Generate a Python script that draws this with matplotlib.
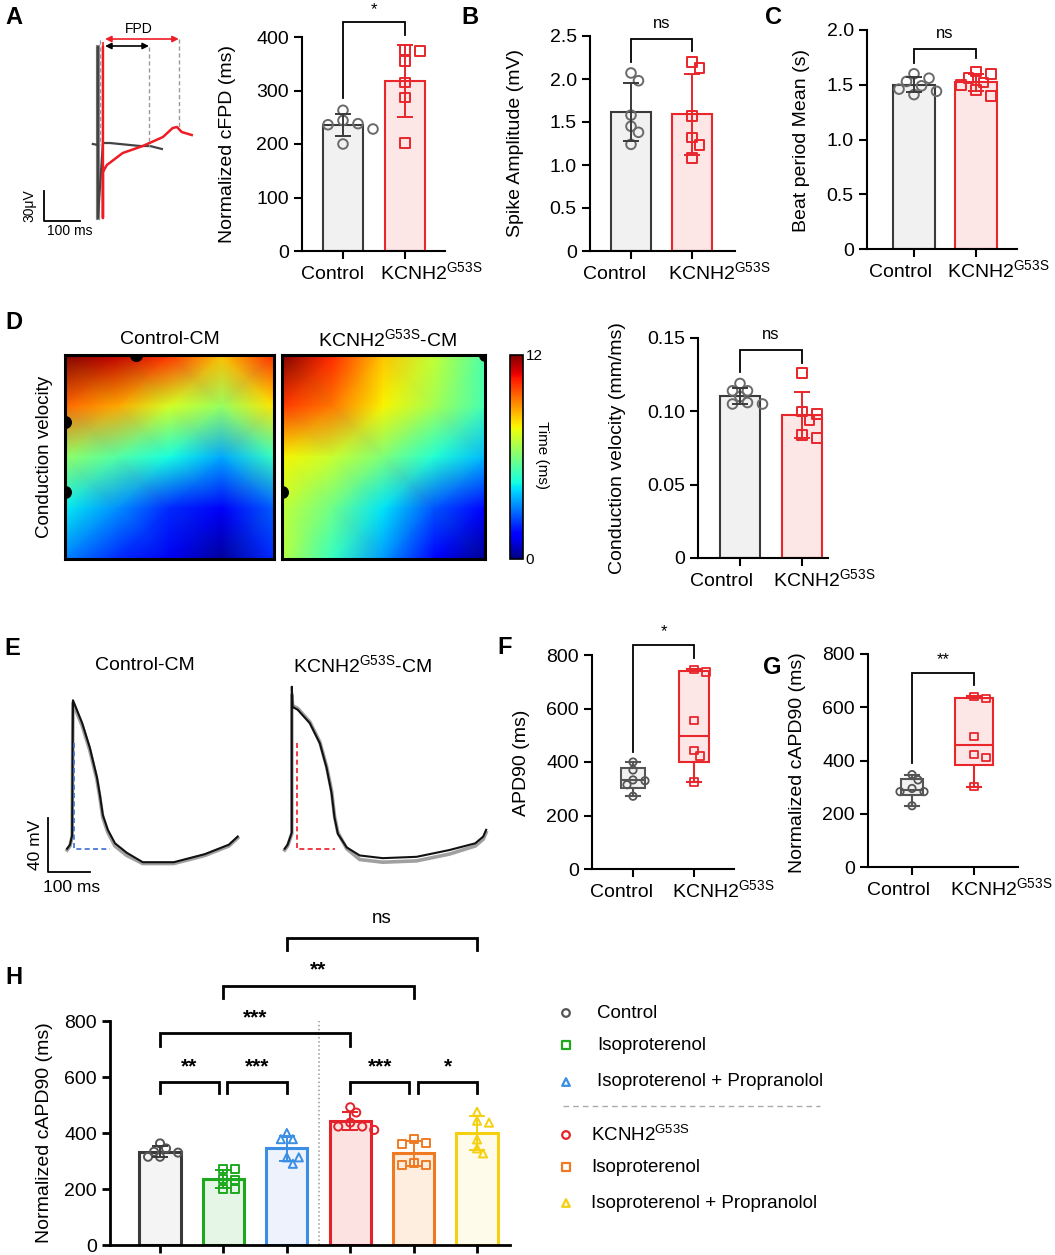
import numpy as np
import matplotlib
matplotlib.use('Agg')
import matplotlib.pyplot as plt
from matplotlib.transforms import ScaledTranslation

plt.rcParams['font.family'] = ['Liberation Sans', 'DejaVu Sans']
plt.rcParams['mathtext.fontset'] = 'custom'
plt.rcParams['mathtext.rm'] = 'Liberation Sans'
plt.rcParams['mathtext.it'] = 'Liberation Sans:italic'
plt.rcParams['mathtext.bf'] = 'Liberation Sans:bold'

# ---------------- data ----------------
MUT = 'KCNH2$^{\\mathregular{G53S}}$'
groups2 = ['Control', MUT]

cfpd_ctrl = [263, 244, 238, 236, 228, 200]
cfpd_mut = [376, 374, 355, 315, 287, 202]
amp_ctrl = [2.07, 1.98, 1.58, 1.45, 1.38, 1.24]
amp_mut = [2.20, 2.13, 1.57, 1.32, 1.23, 1.08]
beat_ctrl = [1.60, 1.56, 1.53, 1.49, 1.46, 1.44, 1.41]
beat_mut = [1.62, 1.60, 1.56, 1.52, 1.50, 1.45, 1.40]
cv_ctrl = [0.119, 0.114, 0.114, 0.110, 0.106, 0.105, 0.105]
cv_mut = [0.126, 0.100, 0.098, 0.094, 0.084, 0.082]
apd_ctrl = [400, 370, 333, 330, 315, 272]
apd_mut = [746, 737, 555, 443, 423, 325]
capd_ctrl = [347, 327, 295, 283, 283, 230]
capd_mut = [641, 632, 490, 423, 411, 302]

h_labels = ['Control', 'Isoproterenol', 'Isoproterenol + Propranolol',
            MUT, 'Isoproterenol', 'Isoproterenol + Propranolol']
h_ctrl = [363, 345, 333, 330, 315, 315]
h_iso = [271, 271, 236, 232, 199, 199]
h_isoprop = [400, 378, 378, 313, 313, 290]
h_mut = [492, 473, 437, 423, 423, 411]
h_mut_iso = [377, 363, 361, 292, 286, 286]
h_mut_isoprop = [476, 444, 437, 377, 345, 327]

# activation maps (ms), rows top->bottom, cols left->right
ctrl_map = np.array([
    [12.0, 11.3, 10.3, 8.5, 10.4],
    [9.6, 8.8, 7.3, 6.4, 8.0],
    [6.3, 5.4, 4.5, 3.5, 5.0],
    [4.3, 3.2, 2.0, 1.3, 2.6],
    [3.0, 2.0, 1.2, 0.3, 2.0]])
mut_map = np.array([
    [12.0, 10.4, 8.4, 7.0, 5.3],
    [10.2, 9.4, 7.8, 6.6, 5.2],
    [7.8, 7.1, 6.0, 4.7, 3.7],
    [7.0, 5.8, 4.2, 2.5, 1.5],
    [6.8, 5.0, 3.3, 1.5, 0.2]])

# field potentials (ms, uV)
fp_ctrl_t = [-14, 0, 0, 0, 14, 33, 61, 117, 145, 178]
fp_ctrl_v = [1, 0, 98, -73, 2, 2, 1, -1, -1, -4]
fp_mut_t = [14, 14, 14, 25, 69, 125, 181, 208, 220, 233, 261]
fp_mut_v = [98, -73, -27, -20, -8, -1, 8, 17, 18, 13, 10]

# action potentials (ms, mV)
ap_ctrl_t = [-14, -7, -2, 0, 22, 40, 57, 64, 71, 83, 100, 128, 166, 240, 314, 371, 392]
ap_ctrl_v = [-70, -67, -60, 40, 23, 5, -17, -30, -45, -56, -66, -73, -80, -80, -74, -67, -61]
ap_ctrl_gray_v = [-71, -68, -61, 38, 21, 3, -19, -32, -47, -58, -68, -75, -81, -81, -75, -68, -62]
ap_mut_t = [-17, -10, 0, 0, 2, 14, 43, 67, 83, 95, 102, 110, 131, 162, 217, 298, 376, 438, 457, 464]
ap_mut_v = [-70, -67, -58, 50, 35, 33, 23, 8, -10, -29, -47, -59, -69, -75, -77, -76, -71, -66, -61, -56]
ap_mut_gray_v = [-71, -68, -59, 44, 36, 34, 24, 9, -9, -27, -46, -58, -70, -78, -80, -79, -74, -68, -63, -58]

# ---------------- figure ----------------
W, H = 1055, 1255
fig = plt.figure(figsize=(W / 100, H / 100), dpi=100)
FS = 14


def add_px(x0, y0, x1, y1):
    return fig.add_axes([x0 / W, 1 - y1 / H, (x1 - x0) / W, (y1 - y0) / H])


def ftext(x, y, s, **kw):
    kw.setdefault('ha', 'center')
    kw.setdefault('va', 'center')
    fig.text(x / W, 1 - y / H, s, **kw)


GRAY, GRAYF, GRAYM = '#3a3a3a', '#f1f1f1', '#6a6a6a'
RED, REDF = '#e8262c', '#fde6e6'


def style_ax(ax, lw=1.5):
    for s in ['top', 'right']:
        ax.spines[s].set_visible(False)
    for s in ['left', 'bottom']:
        ax.spines[s].set_linewidth(lw)
        ax.spines[s].set_color('black')
    ax.tick_params(width=lw, length=6, labelsize=FS, colors='black')


def swarm(vals, ax, diam=10, step=1.5):
    bb = ax.get_position()
    xr, yr = ax.get_xlim(), ax.get_ylim()
    ux = (xr[1] - xr[0]) / (bb.width * W)
    uy = (yr[1] - yr[0]) / (bb.height * H)
    placed, offs = [], []
    cands = [0]
    for j in range(1, 8):
        cands += [j, -j]
    for v in vals:
        py = v / uy
        for c in cands:
            px = c * diam * step * 0.5
            if all((px - a) ** 2 + (py - b) ** 2 >= (diam * 0.95) ** 2 for a, b in placed):
                break
        placed.append((px, py))
        offs.append(px * ux)
    return np.array(offs)


def bar_panel(ax, datasets, edges, fills, mcols, markers, width, ms=48, diam=10, lw=1.5):
    for i, vals in enumerate(datasets):
        m, sd = np.mean(vals), np.std(vals, ddof=1)
        ax.bar(i, m, width, color=fills[i], edgecolor=edges[i], linewidth=lw, zorder=1)
        xo = swarm(vals, ax, diam=diam)
        ax.scatter(i + xo, vals, marker=markers[i], s=ms, facecolors='none',
                   edgecolors=mcols[i], linewidths=1.4, zorder=3, clip_on=False)
        ax.errorbar(i, m, yerr=sd, fmt='none', ecolor=edges[i], elinewidth=1.4,
                    capsize=6, capthick=1.4, zorder=4)


def bracket(ax, x1, x2, y, y1, y2, txt, ty, fs=12, lw=1.3, weight='normal'):
    ax.plot([x1, x1, x2, x2], [y1, y, y, y2], color='black', lw=lw, clip_on=False,
            solid_joinstyle='miter', zorder=5)
    ax.text((x1 + x2) / 2, ty, txt, ha='center', va='center', fontsize=fs,
            fontweight=weight, clip_on=False)


def two_group_axes(box, xl, yl, yticks, yticklabels, dctrl=-12, dmut=-25):
    ax = add_px(*box)
    ax.set_xlim(*xl)
    ax.set_ylim(*yl)
    style_ax(ax)
    ax.set_yticks(yticks)
    ax.set_yticklabels(yticklabels)
    ax.set_xticks([0, 1])
    ax.set_xticklabels([])
    for i, (lab, dx, ha) in enumerate(zip(groups2, [dctrl, dmut], ['center', 'left'])):
        tr = ax.get_xaxis_transform() + ScaledTranslation(dx / 100, -28 / 100, fig.dpi_scale_trans)
        ax.text(i, 0, lab, transform=tr, ha=ha, va='baseline', fontsize=FS)
    return ax


# ---------------- A traces ----------------
axA0 = add_px(40, 20, 200, 245)
axA0.set_xlim(-161, 284)
axA0.set_ylim(-100, 125)
axA0.axis('off')
axA0.plot([0, 0], [98, -73], color='#888888', lw=3.0)
axA0.plot(fp_ctrl_t, fp_ctrl_v, color='#444444', lw=1.6)
axA0.plot(fp_mut_t, fp_mut_v, color='#ee1c24', lw=1.8)
axA0.plot([14, 14], [98, 106], color='#ee1c24', lw=1.2, ls=(0, (3, 2)))
axA0.plot([5, 5], [105, 0], color='#999999', lw=1.0, ls=(0, (3, 2)))
axA0.plot([142, 142], [98, -2], color='#999999', lw=1.0, ls=(0, (3, 2)))
axA0.plot([225, 225], [106, 18], color='#999999', lw=1.0, ls=(0, (3, 2)))
axA0.annotate('', xy=(20, 99), xytext=(142, 99),
              arrowprops=dict(arrowstyle='<|-|>', color='black', lw=1.2, mutation_scale=9, shrinkA=0, shrinkB=0))
axA0.annotate('', xy=(20, 106), xytext=(225, 106),
              arrowprops=dict(arrowstyle='<|-|>', color='#ee1c24', lw=1.2, mutation_scale=9, shrinkA=0, shrinkB=0))
axA0.plot([-150, -150, -50], [-46, -76, -76], color='black', lw=1.3)
ftext(139, 29, 'FPD', fontsize=10)
ftext(29, 206, '30μV', fontsize=10, rotation=90)
ftext(70, 231, '100 ms', fontsize=10)

# ---------------- A bars ----------------
axA = two_group_axes((302, 37, 445, 251), (-0.661, 1.645), (0, 400),
                     [0, 100, 200, 300, 400], ['0', '100', '200', '300', '400'], -10, -25)
bar_panel(axA, [cfpd_ctrl, cfpd_mut], [GRAY, RED], [GRAYF, REDF], [GRAYM, RED], ['o', 's'], 0.63)
bracket(axA, 0, 1, 428, 286, 404, '*', 452)
ftext(228, 144, 'Normalized cFPD (ms)', fontsize=FS, rotation=90)

# ---------------- B ----------------
axB = two_group_axes((590, 36, 735, 251), (-0.672, 1.705), (0, 2.5),
                     [0, 0.5, 1.0, 1.5, 2.0, 2.5], ['0', '0.5', '1.0', '1.5', '2.0', '2.5'], -16, -24)
bar_panel(axB, [amp_ctrl, amp_mut], [GRAY, RED], [GRAYF, REDF], [GRAYM, RED], ['o', 's'], 0.64)
bracket(axB, 0, 1, 2.47, 2.20, 2.33, 'ns', 2.64)
ftext(515, 143, 'Spike Amplitude (mV)', fontsize=FS, rotation=90)

# ---------------- C ----------------
axC = two_group_axes((867, 30, 1017, 249), (-0.758, 1.661), (0, 2.0),
                     [0, 0.5, 1.0, 1.5, 2.0], ['0', '0.5', '1.0', '1.5', '2.0'], -14, -29)
bar_panel(axC, [beat_ctrl, beat_mut], [GRAY, RED], [GRAYF, REDF], [GRAYM, RED], ['o', 's'], 0.68)
bracket(axC, 0, 1, 1.83, 1.70, 1.74, 'ns', 1.97)
ftext(802, 140, 'Beat period Mean (s)', fontsize=FS, rotation=90)

# ---------------- D maps ----------------
gx = np.linspace(0, 1, ctrl_map.shape[1])
gy = np.linspace(0, 1, ctrl_map.shape[0])
GX, GY = np.meshgrid(gx, gy)
mapboxes = [(65, 355, 274, 559), (282, 355, 485, 559)]
dots = [[(0, 0.33), (0, 0.67), (0.34, 0.0)], [(0, 0.67), (1.0, 0.0)]]
for k, (Z, box) in enumerate(zip([ctrl_map, mut_map], mapboxes)):
    axm = add_px(*box)
    pm = axm.pcolormesh(GX, GY, Z, shading='gouraud', cmap='jet', vmin=0, vmax=12)
    axm.set_xlim(0, 1)
    axm.set_ylim(1, 0)
    axm.set_xticks([])
    axm.set_yticks([])
    for s in axm.spines.values():
        s.set_linewidth(2.2)
    dx, dy = zip(*dots[k])
    axm.scatter(dx, dy, s=70, color='black', zorder=3, clip_on=True)
cax = add_px(510, 355, 523, 559)
cb = fig.colorbar(pm, cax=cax)
cb.set_ticks([0, 12])
cb.set_ticklabels(['0', '12'])
cax.tick_params(length=0, labelsize=11, pad=2)
cb.outline.set_linewidth(1.2)
ftext(542, 455, 'Time (ms)', fontsize=11, rotation=270)
ftext(170, 339, 'Control-CM', fontsize=FS)
ftext(387, 339, MUT + '-CM', fontsize=FS)
ftext(45, 457, 'Conduction velocity', fontsize=13.5, rotation=90)

# ---------------- D bars ----------------
axD = two_group_axes((698, 338, 828, 558), (-0.677, 1.419), (0, 0.15),
                     [0, 0.05, 0.10, 0.15], ['0', '0.05', '0.10', '0.15'], -18, -29)
bar_panel(axD, [cv_ctrl, cv_mut], [GRAY, RED], [GRAYF, REDF], [GRAYM, RED], ['o', 's'], 0.63)
bracket(axD, 0, 1, 0.1418, 0.1268, 0.133, 'ns', 0.1525)
ftext(617, 448, 'Conduction velocity (mm/ms)', fontsize=FS, rotation=90)

# ---------------- E traces ----------------
axE1 = add_px(20, 680, 260, 900)
axE1.set_xlim(-126, 445)
axE1.set_ylim(-108, 55)
axE1.axis('off')
axE1.plot(ap_ctrl_t, ap_ctrl_gray_v, color='#a0a0a0', lw=2.6)
axE1.plot(ap_ctrl_t, ap_ctrl_v, color='#111111', lw=1.5)
axE1.plot([2, 2, 88], [8.5, -70, -70], color='#3a6fd0', lw=1.2, ls=(0, (3, 2)))
axE1.plot([-60, -60, 40], [-47, -87, -87], color='black', lw=1.3)

axE2 = add_px(265, 680, 505, 900)
axE2.set_xlim(-64, 509)
axE2.set_ylim(-108, 55)
axE2.axis('off')
axE2.plot(ap_mut_t, ap_mut_gray_v, color='#a0a0a0', lw=2.6)
axE2.plot(ap_mut_t, ap_mut_v, color='#111111', lw=1.5)
axE2.plot([12, 12, 102], [8.5, -70, -70], color='#ee1c24', lw=1.2, ls=(0, (3, 2)))
ftext(145, 665, 'Control-CM', fontsize=FS)
ftext(362, 665, MUT + '-CM', fontsize=FS)
ftext(35, 845, '40 mV', fontsize=12.5, rotation=90)
ftext(72, 888, '100 ms', fontsize=12.5)


# ---------------- F / G boxes ----------------
def box_panel(ax, datasets, edges, fills, mcols, markers, widths, capw):
    for i, vals in enumerate(datasets):
        q1, med, q3 = np.percentile(vals, [25, 50, 75], method='weibull')
        st = dict(med=med, q1=q1, q3=q3, whislo=min(vals), whishi=max(vals), fliers=[])
        ax.bxp([st], positions=[i], widths=widths[i], capwidths=capw, patch_artist=True,
               showfliers=False, manage_ticks=False,
               boxprops=dict(facecolor=fills[i], edgecolor=edges[i], linewidth=1.5),
               medianprops=dict(color=edges[i], linewidth=1.5),
               whiskerprops=dict(color=edges[i], linewidth=1.5),
               capprops=dict(color=edges[i], linewidth=1.5))
        xo = swarm(vals, ax, diam=8, step=1.5)
        ax.scatter(i + xo, vals, marker=markers[i], s=28, facecolors='none',
                   edgecolors=mcols[i], linewidths=1.3, zorder=3)


axF = two_group_axes((592, 655, 734, 869), (-0.672, 1.656), (0, 800),
                     [0, 200, 400, 600, 800], ['0', '200', '400', '600', '800'], -11, -22)
box_panel(axF, [apd_ctrl, apd_mut], ['#555555', RED], [GRAYF, REDF], ['#555555', RED], ['o', 's'],
          [0.39, 0.49], 0.23)
bracket(axF, 0, 1, 837, 437, 789, '*', 888)
ftext(521, 763, 'APD90 (ms)', fontsize=FS, rotation=90)

axG = two_group_axes((868, 654, 1018, 867), (-0.71, 1.71), (0, 800),
                     [0, 200, 400, 600, 800], ['0', '200', '400', '600', '800'], -14, -24)
box_panel(axG, [capd_ctrl, capd_mut], ['#555555', RED], [GRAYF, REDF], ['#555555', RED], ['o', 's'],
          [0.37, 0.6], 0.23)
bracket(axG, 0, 1, 729, 391, 684, '**', 779)
ftext(797, 763, 'Normalized cAPD90 (ms)', fontsize=FS, rotation=90)

# ---------------- H ----------------
h_data = [h_ctrl, h_iso, h_isoprop, h_mut, h_mut_iso, h_mut_isoprop]
h_edges = ['#3a3a3a', '#1ea81e', '#3a8fe4', '#e3222a', '#f07a22', '#f5d010']
h_fills = ['#f4f4f4', '#e6f6e6', '#edf2fd', '#fde2e2', '#fdeee0', '#fffbea']
h_mcols = ['#555555', '#1ea81e', '#3a8fe4', '#e3222a', '#f07a22', '#f5d010']
h_markers = ['o', 's', '^', 'o', 's', '^']
axH = add_px(110, 1021, 510, 1245)
axH.set_xlim(-0.789, 5.52)
axH.set_ylim(0, 800)
style_ax(axH, lw=2)
axH.set_yticks([0, 200, 400, 600, 800])
axH.set_xticks(range(6))
axH.set_xticklabels([])
axH.axvline(2.5, ymin=0, ymax=1.0, color='#999999', lw=1.1, ls=':', zorder=0)
bar_panel(axH, h_data, h_edges, h_fills, h_mcols, h_markers, 0.65, ms=34, diam=8, lw=2.2)
ftext(45, 1133, 'Normalized cAPD90 (ms)', fontsize=FS, rotation=90)
bs = dict(fs=15, lw=2.0, weight='bold')
bracket(axH, 0, 0.93, 582, 543, 543, '**', 637, **bs)
bracket(axH, 1.06, 2.0, 582, 543, 543, '***', 637, **bs)
bracket(axH, 3.0, 3.93, 582, 543, 543, '***', 637, **bs)
bracket(axH, 4.07, 5.0, 582, 543, 543, '*', 637, **bs)
bracket(axH, 0, 3.0, 757, 711, 711, '***', 812, **bs)
bracket(axH, 0.99, 4.0, 925, 882, 882, '**', 984, **bs)
bracket(axH, 2.0, 5.0, 1096, 1054, 1054, 'ns', 1166, fs=13.5, lw=2.0)

# legend for H
axL = add_px(540, 995, 850, 1225)
axL.set_xlim(540, 850)
axL.set_ylim(1225, 995)
axL.axis('off')
leg_y = [1013, 1045, 1082, 1135, 1167, 1203]
leg_tx = [597, 597, 597, 591, 591, 591]
for i in range(6):
    axL.scatter([566], [leg_y[i]], marker=h_markers[i], s=30, facecolors='none',
                edgecolors=h_mcols[i], linewidths=1.6)
    axL.text(leg_tx[i], leg_y[i], h_labels[i], fontsize=13.5, ha='left', va='center')
axL.plot([563, 820], [1106, 1106], color='#aaaaaa', lw=1.0, ls=(0, (4, 3)))

# panel letters
for L, x, y in [('A', 14, 17), ('B', 470, 17), ('C', 774, 17), ('D', 14, 323),
                ('E', 12, 648), ('F', 505, 647), ('G', 772, 668), ('H', 14, 978)]:
    ftext(x, y, L, fontsize=17, fontweight='bold')

fig.savefig('out.png', dpi=100)
